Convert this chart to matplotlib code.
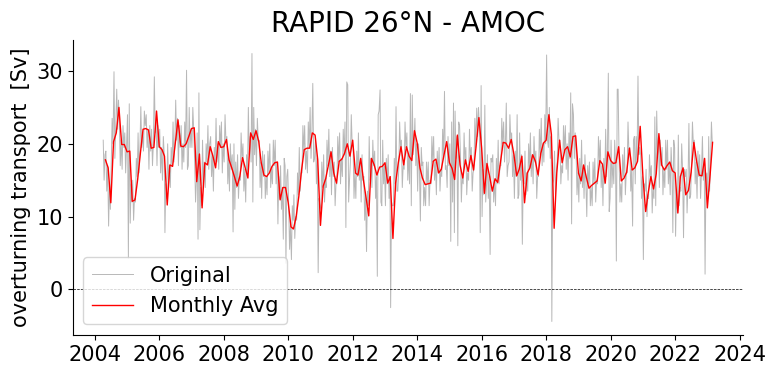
import matplotlib
matplotlib.use("Agg")
import matplotlib.pyplot as plt
import matplotlib.dates as mdates
import pandas as pd

# Monthly averages (Sv), April 2004 .. February 2023
monthly_avg = [
    17.8, 16.7, 11.9, 20.3, 21.5, 25.0, 19.9, 19.9, 18.9, 19.0,
    12.1, 12.3, 15.1, 18.7, 22.0, 22.1, 21.9, 19.4, 19.5, 24.5,
    19.6, 19.2, 18.3, 11.6, 17.1, 16.9, 20.1, 23.3, 19.7, 19.6,
    20.0, 21.0, 22.1, 22.2, 14.8, 18.6, 11.2, 17.4, 17.1, 19.6,
    18.3, 16.7, 20.3, 19.5, 19.6, 20.6, 17.8, 16.7, 15.5, 14.2,
    15.5, 18.1, 16.7, 15.3, 21.5, 20.6, 21.8, 20.3, 17.4, 15.7,
    15.5, 16.0, 16.9, 17.4, 17.5, 12.3, 14.0, 14.0, 11.9, 8.6,
    8.3, 10.0, 12.8, 16.4, 19.2, 19.4, 19.4, 21.5, 21.2, 17.8,
    8.8, 14.2, 15.2, 17.1, 18.9, 16.0, 14.6, 17.6, 17.9, 18.7,
    20.0, 18.3, 20.5, 16.0, 15.7, 18.0, 15.1, 12.6, 10.1, 18.0,
    17.1, 15.7, 16.8, 16.9, 17.4, 14.6, 15.5, 7.0, 14.6, 17.4,
    19.6, 17.1, 19.6, 18.3, 17.7, 21.8, 20.1, 16.7, 15.3, 14.4,
    14.5, 14.6, 17.6, 17.9, 16.0, 16.5, 18.5, 20.3, 17.4, 16.6,
    15.1, 21.2, 17.1, 15.3, 17.8, 16.2, 18.4, 16.4, 19.9, 23.6,
    19.4, 13.2, 17.3, 15.5, 13.5, 15.2, 14.7, 17.4, 20.2, 20.1,
    19.4, 20.6, 18.5, 15.6, 16.5, 18.3, 11.9, 16.0, 16.7, 18.5,
    17.6, 15.7, 18.7, 20.1, 20.5, 24.0, 21.3, 8.4, 16.0, 20.5,
    17.4, 19.2, 19.6, 18.2, 21.0, 21.1, 16.0, 14.9, 17.1, 15.4,
    13.9, 14.3, 14.6, 14.9, 17.7, 17.2, 14.6, 18.9, 17.7, 17.3,
    17.4, 19.6, 14.9, 15.3, 16.1, 19.4, 16.4, 16.7, 17.6, 22.4,
    15.5, 10.7, 13.2, 15.5, 13.8, 15.9, 21.4, 17.1, 16.4, 17.0,
    17.5, 16.3, 16.0, 10.5, 15.5, 16.7, 13.0, 13.6, 16.1, 20.2,
    17.6, 15.7, 15.6, 18.0, 11.2, 15.7, 20.2,
]

# Original series, sampled three times a month (Sv)
original = [
    20.5, 15.0, 18.5,  19.0, 13.5, 17.0,  8.7, 14.5, 11.0,  17.0, 23.5, 20.0,
    29.9, 18.0, 22.5,  27.5, 22.0, 26.0,  23.0, 17.0, 20.5,  16.5, 22.5, 19.5,
    21.5, 16.0, 19.5,  24.0, 4.3, 25.5,  9.1, 14.5, 12.0,  15.0, 9.5, 12.5,
    12.0, 18.0, 15.5,  21.5, 16.0, 19.0,  25.1, 19.5, 21.5,  19.0, 24.5, 22.5,
    24.0, 19.5, 22.0,  16.5, 22.5, 19.0,  22.0, 17.0, 20.0,  29.2, 21.5, 23.0,
    17.0, 22.5, 19.5,  22.0, 16.0, 19.5,  15.0, 21.0, 18.5,  7.8, 14.5, 12.5,
    20.0, 14.5, 17.0,  14.0, 19.5, 17.0,  23.0, 17.5, 20.0,  26.0, 20.5, 23.5,
    17.0, 22.5, 19.5,  22.5, 16.5, 20.0,  17.5, 23.0, 19.5,  30.1, 16.5, 17.0,
    25.0, 19.5, 22.0,  19.5, 25.0, 22.0,  17.5, 12.0, 15.0,  21.5, 6.9, 27.0,
    8.2, 14.0, 11.5,  20.5, 14.5, 17.5,  14.0, 20.0, 17.5,  22.5, 16.5, 20.0,
    21.0, 15.5, 18.5,  13.5, 19.5, 17.0,  23.5, 17.5, 20.0,  16.5, 22.5, 19.5,
    23.0, 16.0, 20.0,  17.5, 24.0, 20.5,  21.0, 14.5, 18.0,  13.5, 20.0, 16.5,
    18.5, 7.9, 20.0,  11.0, 17.5, 14.0,  18.5, 12.5, 15.5,  15.0, 21.5, 18.0,
    20.0, 13.5, 16.5,  12.0, 18.5, 15.5,  25.0, 18.5, 21.0,  17.5, 32.4, 12.0,
    25.0, 18.5, 22.0,  17.0, 23.5, 20.5,  20.5, 14.0, 17.5,  12.5, 19.0, 15.5,
    18.5, 12.5, 15.5,  13.0, 19.0, 16.0,  20.0, 14.0, 16.5,  14.5, 20.5, 17.0,
    20.5, 14.5, 17.5,  9.0, 15.5, 12.5,  17.0, 11.0, 14.0,  6.9, 18.0, 17.0,
    3.6, 15.5, 16.5,  11.5, 5.5, 9.0,  4.1, 11.5, 9.5,  13.0, 7.0, 10.0,
    9.5, 16.0, 13.0,  19.5, 13.5, 16.0,  16.0, 22.5, 19.0,  22.5, 16.5, 19.0,
    16.0, 23.0, 19.5,  25.0, 18.0, 21.5,  28.3, 17.5, 18.0,  21.0, 14.5, 18.0,
    2.3, 12.5, 11.5,  11.0, 17.5, 14.0,  18.5, 12.0, 15.0,  14.0, 20.5, 17.0,
    22.0, 15.5, 19.0,  13.0, 19.5, 15.5,  17.5, 11.5, 14.5,  14.5, 21.0, 17.5,
    21.5, 14.5, 18.0,  15.5, 22.0, 18.5,  23.0, 8.5, 28.5,  28.1, 12.0, 15.0,
    17.5, 24.0, 20.0,  19.5, 12.5, 16.0,  12.5, 19.0, 15.5,  21.5, 15.0, 17.5,
    12.0, 18.5, 15.0,  15.5, 9.5, 13.0,  5.2, 13.5, 11.5,  21.0, 15.0, 18.0,
    14.0, 20.5, 17.0,  19.0, 12.5, 15.5,  1.8, 24.0, 24.5,  27.4, 12.0, 11.5,
    20.5, 14.5, 17.0,  11.5, 18.0, 14.5,  18.5, 12.5, 15.5,  -2.5, 12.0, 11.5,
    11.5, 18.0, 14.5,  25.1, 13.5, 13.5,  16.5, 23.0, 19.5,  20.5, 14.0, 17.0,
    16.5, 23.0, 19.5,  21.5, 15.0, 18.5,  14.5, 26.9, 11.5,  26.7, 18.5, 20.0,
    23.5, 17.0, 20.0,  13.5, 20.0, 16.5,  9.4, 19.5, 17.0,  17.5, 11.5, 14.0,
    11.5, 17.5, 14.5,  17.5, 11.5, 15.0,  14.5, 21.0, 17.5,  21.0, 15.0, 17.5,
    13.0, 19.0, 16.0,  19.5, 13.5, 16.5,  15.5, 22.0, 18.0,  27.2, 16.5, 17.0,
    14.0, 21.0, 17.0,  20.0, 6.6, 23.0,  12.0, 25.6, 7.8,  24.5, 18.0, 21.0,
    6.0, 23.0, 22.5,  18.5, 12.0, 15.5,  14.5, 21.5, 17.5,  19.5, 13.0, 16.0,
    15.0, 22.0, 18.0,  19.5, 13.5, 16.0,  16.5, 23.5, 19.5,  24.9, 21.0, 25.0,
    22.5, 7.8, 28.0,  10.0, 16.5, 13.0,  25.3, 12.0, 14.5,  18.5, 12.5, 15.5,
    4.8, 18.0, 17.5,  18.5, 12.0, 15.0,  11.5, 18.0, 14.5,  20.5, 14.5, 17.0,
    17.0, 23.5, 20.0,  23.0, 17.5, 20.0,  25.6, 15.5, 17.0,  17.5, 24.0, 20.5,
    21.5, 15.5, 18.5,  12.5, 19.0, 15.5,  24.0, 12.5, 13.0,  21.5, 15.0, 18.5,
    6.2, 15.0, 14.5,  19.0, 13.0, 16.0,  13.5, 20.0, 16.5,  21.5, 15.5, 18.5,
    14.5, 21.0, 17.5,  19.0, 12.5, 15.5,  15.5, 22.0, 18.5,  23.5, 17.0, 20.0,
    17.5, 24.0, 20.0,  32.2, 20.5, 19.5,  25.0, 18.0, 21.0,  -4.4, 14.5, 15.0,
    19.0, 13.0, 16.0,  17.5, 23.5, 20.5,  20.5, 14.5, 17.0,  16.0, 22.5, 19.0,
    22.5, 16.5, 20.0,  15.0, 21.5, 18.0,  27.0, 9.0, 25.5,  24.0, 18.0, 21.5,
    19.0, 13.0, 16.0,  12.0, 18.0, 14.5,  20.5, 14.0, 17.0,  12.5, 18.5, 15.0,
    10.0, 17.0, 14.5,  17.5, 11.5, 14.0,  11.5, 17.5, 14.5,  18.0, 12.0, 15.0,
    14.5, 21.0, 17.5,  20.5, 14.0, 17.0,  11.5, 18.0, 14.5,  22.0, 15.5, 19.0,
    29.7, 10.7, 12.5,  20.5, 14.0, 17.5,  14.5, 20.5, 17.0,  3.9, 27.5, 27.5,
    18.0, 12.0, 14.5,  12.0, 18.5, 15.5,  19.5, 13.0, 16.0,  16.0, 23.0, 19.0,
    19.5, 13.5, 16.5,  8.7, 20.5, 21.0,  14.5, 21.0, 17.5,  29.3, 18.5, 19.5,
    18.5, 12.5, 15.5,  4.1, 14.5, 13.5,  16.5, 10.0, 13.0,  12.5, 18.5, 15.5,
    17.0, 10.5, 14.0,  12.5, 23.7, 11.5,  24.5, 18.5, 21.0,  14.0, 20.5, 17.0,
    19.5, 13.0, 16.5,  14.0, 20.5, 16.5,  20.5, 14.5, 17.5,  13.0, 19.5, 16.5,
    7.8, 20.5, 19.5,  7.3, 13.5, 10.5,  21.2, 11.5, 14.0,  13.5, 20.0, 16.5,
    7.1, 16.5, 15.5,  16.5, 10.5, 14.0,  22.8, 12.5, 13.0,  17.5, 23.0, 20.0,
    20.5, 14.5, 17.5,  12.5, 19.0, 15.5,  18.5, 12.5, 16.0,  21.0, 15.0, 18.0,
    2.1, 15.5, 16.0,  12.5, 21.0, 13.5,  17.5, 23.0, 20.0,
]

sample_days = [4, 14, 24]
month_starts = pd.date_range("2004-04-01", periods=len(monthly_avg), freq="MS")
original_dates = [m + pd.Timedelta(days=d) for m in month_starts for d in sample_days]
monthly_dates = pd.date_range("2004-04-30", periods=len(monthly_avg), freq="ME")

fig = plt.figure(figsize=(7.74, 3.75), dpi=100)
ax = fig.add_axes([0.094, 0.107, 0.866, 0.786])

ax.plot(original_dates, original, color="0.72", lw=0.7, label="Original")
ax.plot(monthly_dates, monthly_avg, color="red", lw=1.0, label="Monthly Avg")
ax.axhline(0, color="black", ls="--", lw=0.5)

ax.set_title("RAPID 26°N - AMOC", fontsize=20)
ax.set_ylabel("overturning transport  [Sv]", fontsize=15)
ax.xaxis.set_major_locator(mdates.YearLocator(2))
ax.xaxis.set_major_formatter(mdates.DateFormatter("%Y"))
ax.set_yticks([0, 10, 20, 30])
ax.tick_params(labelsize=15)
ax.spines["top"].set_visible(False)
ax.spines["right"].set_visible(False)
ax.legend(loc="lower left", fontsize=15)

fig.savefig("out.png", dpi=100)
